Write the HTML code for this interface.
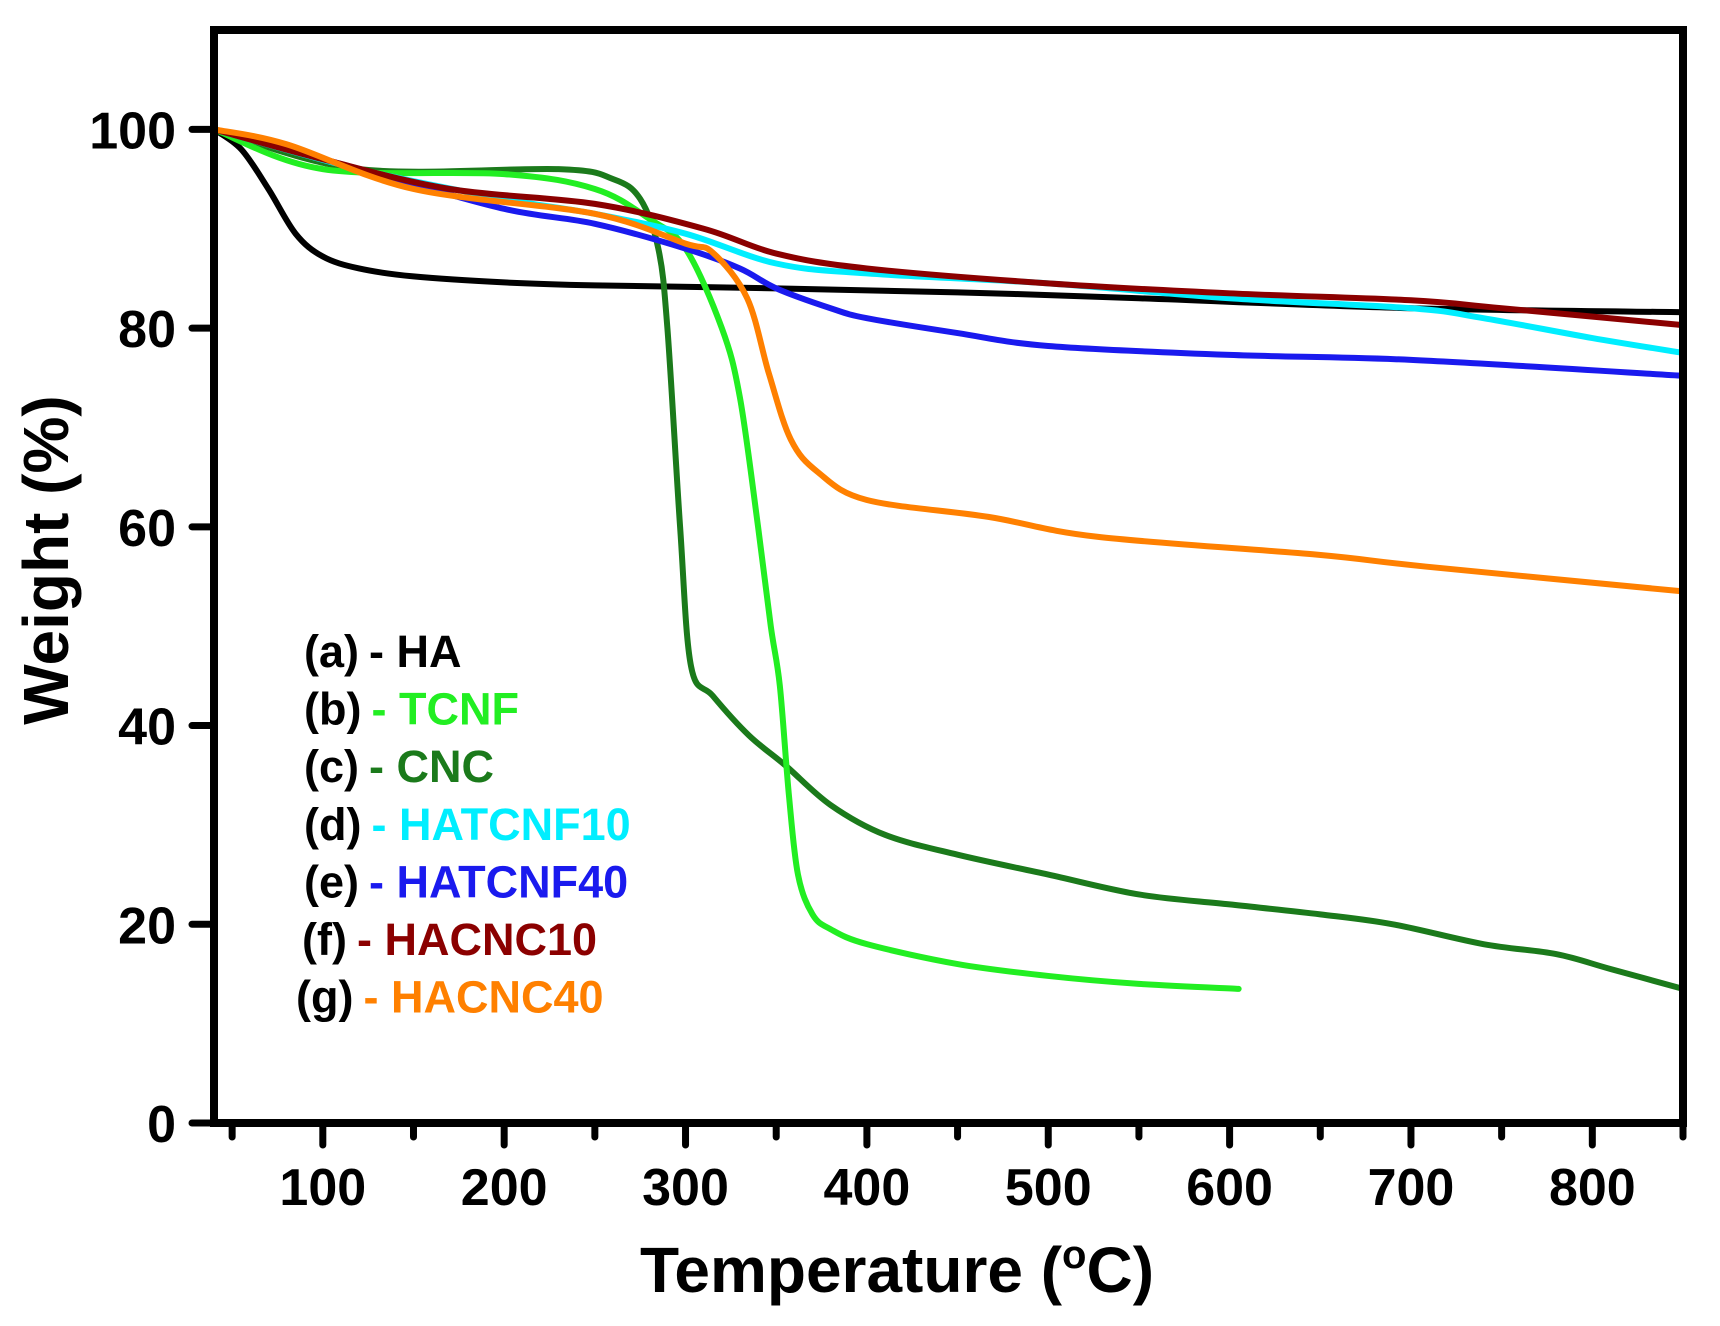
<!DOCTYPE html>
<html><head><meta charset="utf-8"><style>
html,body{margin:0;padding:0;background:#fff}
svg{display:block;font-family:"Liberation Sans",Arial,sans-serif;font-weight:bold}
</style></head><body>
<svg id="chart" width="1720" height="1326" viewBox="0 0 1720 1326">
<g id="series"></g>
<g id="axes"></g>
<g id="legend"></g>
<text x="897" y="1292" text-anchor="middle" font-size="64">Temperature (<tspan dy="-24" font-size="40">o</tspan><tspan dy="24">C)</tspan></text>
<text transform="translate(68,560) rotate(-90)" text-anchor="middle" font-size="64">Weight (%)</text>
</svg>
<script>
const xTicks=[100,200,300,400,500,600,700,800];
const yTicks=[0,20,40,60,80,100];
const seriesNames=["HA","TCNF","CNC","HATCNF10","HATCNF40","HACNC10","HACNC40"];
const seriesColors=["#000000","#22ee22","#1b7a1b","#00eeff","#1a1aee","#8b0000","#ff8000"];
const haX=[40,55,70,85,100,120,150,200,250,350,450,550,700,850];
const haY=[100,98,94,89.5,87.2,86,85.2,84.6,84.3,84,83.6,83,82,81.6];
const tcnfX=[40,100,200,250,280,300,320,330,340,347,352,357,362,370,380,400,450,500,550,605];
const tcnfY=[100,96,95.5,94,91,88,80,73,60,50,44,33,25,21,19.5,18,16,14.8,14,13.5];
const cncX=[40,120,230,260,275,285,290,297,303,315,335,355,380,410,450,500,550,600,650,690,740,780,810,850];
const cncY=[100,96,96,95,93,88,80,60,46,43,39,36,32,29,27,25,23,22,21,20,18,17,15.5,13.5];
const d10X=[40,120,200,250,300,350,400,500,600,700,740,800,850];
const d10Y=[100,96,93,91.5,89.5,86.5,85.5,84.5,83,82,81,79,77.5];
const e40X=[40,130,200,250,300,330,350,380,400,450,500,600,700,850];
const e40Y=[100,95.5,92,90.5,88,86,84,82,81,79.5,78.2,77.3,76.8,75.2];
const f10X=[40,100,170,250,310,350,400,500,600,700,750,850];
const f10Y=[100,97,94,92.5,90,87.5,86,84.5,83.5,82.8,82,80.3];
const g40X=[40,80,150,250,300,315,334,346,358,373,400,467,527,648,708,850];
const g40Y=[100,98.5,94,91.5,88.5,87.6,83,75.4,68.8,65.5,62.7,61,59,57.2,56,53.5];
const allX=[haX,tcnfX,cncX,d10X,e40X,f10X,g40X];
const allY=[haY,tcnfY,cncY,d10Y,e40Y,f10Y,g40Y];

const L=214,R=1683,T=30,B=1123,xMin=40,xMax=850,yMin=0,yMax=110;
const sx=v=>L+(v-xMin)/(xMax-xMin)*(R-L);
const sy=v=>B-(v-yMin)/(yMax-yMin)*(B-T);
const NS="http://www.w3.org/2000/svg";
function mk(tag,attrs,parent){const e=document.createElementNS(NS,tag);for(const k in attrs)e.setAttribute(k,attrs[k]);parent.appendChild(e);return e;}
function smooth(px){let d="M"+px[0][0]+","+px[0][1];for(let i=0;i<px.length-1;i++){const p0=px[Math.max(0,i-1)],p1=px[i],p2=px[i+1],p3=px[Math.min(px.length-1,i+2)];const c1=[p1[0]+(p2[0]-p0[0])/6,p1[1]+(p2[1]-p0[1])/6],c2=[p2[0]-(p3[0]-p1[0])/6,p2[1]-(p3[1]-p1[1])/6];d+=" C"+c1[0]+","+c1[1]+" "+c2[0]+","+c2[1]+" "+p2[0]+","+p2[1];}return d;}
const sg=document.getElementById("series");
const order=[0,2,1,4,3,5,6];
order.forEach(i=>{
  const pts=allX[i].map((x,j)=>[sx(x),sy(allY[i][j])]);
  const p=mk("path",{d:smooth(pts),fill:"none",stroke:seriesColors[i],"stroke-width":6,"stroke-linejoin":"round","stroke-linecap":"round"},sg);
  
  
});
const ax=document.getElementById("axes");
const fr=mk("rect",{x:L,y:T,width:R-L,height:B-T,fill:"none",stroke:"#000","stroke-width":8},ax);


for(let v=50;v<=850;v+=50){
  const major=v%100===0;
  const t=mk("line",{x1:sx(v),x2:sx(v),y1:B,y2:B+(major?22:14),stroke:"#000","stroke-width":7,"stroke-linecap":"round"},ax);
  
  
}
xTicks.forEach(v=>{
  const t=mk("text",{x:sx(v),y:1205,"text-anchor":"middle","font-size":52},ax);t.textContent=v;
  
  
});
yTicks.forEach(v=>{
  const l=mk("line",{x1:L-22,x2:L,y1:sy(v),y2:sy(v),stroke:"#000","stroke-width":7,"stroke-linecap":"round"},ax);
  
  
  const t=mk("text",{x:176,y:sy(v)+19,"text-anchor":"end","font-size":52},ax);t.textContent=v;
  
  
});
const lg=document.getElementById("legend");
const letters=["a","b","c","d","e","f","g"];
seriesNames.forEach((n,i)=>{
  const y=651+i*57.6+16;
  const t=mk("text",{x:i===6?296:(i===5?302:304),y:y,"font-size":45},lg);
  const a=mk("tspan",{fill:"#000"},t);a.textContent="("+letters[i]+")";
  const b=mk("tspan",{fill:seriesColors[i],dx:10},t);b.textContent="- "+n;
  
  
});
</script>
</body></html>
